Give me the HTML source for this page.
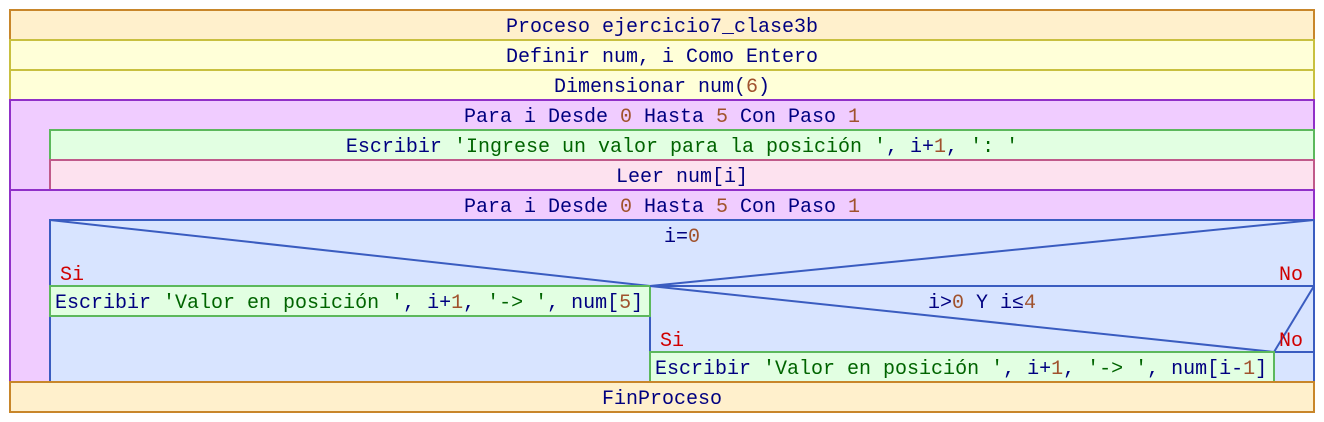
<!DOCTYPE html>
<html><head><meta charset="utf-8"><style>
html,body{margin:0;padding:0;background:#fff;}
svg{display:block;}
text{font-family:"Liberation Mono","DejaVu Sans Mono",monospace;font-size:20px;fill:#000080;}
.n{fill:#a0522d}.s{fill:#006400}.r{fill:#d00000}
</style></head><body>
<svg width="1324" height="422" viewBox="0 0 1324 422">
<g stroke-width="2">
<rect x="10" y="10" width="1304" height="30" fill="#fff0cc" stroke="#c8862a"/>
<rect x="10" y="40" width="1304" height="30" fill="#ffffd8" stroke="#c8c040"/>
<rect x="10" y="70" width="1304" height="30" fill="#ffffd8" stroke="#c8c040"/>
<rect x="10" y="100" width="1304" height="90" fill="#f0ccff" stroke="#9030c8"/>
<rect x="50" y="130" width="1264" height="30" fill="#e2ffe2" stroke="#5cb85c"/>
<rect x="50" y="160" width="1264" height="30" fill="#fde2ef" stroke="#c05a8a"/>
<rect x="10" y="190" width="1304" height="192" fill="#f0ccff" stroke="#9030c8"/>
<rect x="50" y="220" width="1264" height="162" fill="#d8e4ff" stroke="#3a5cc0"/>
<line x1="50" y1="286" x2="1314" y2="286" stroke="#3a5cc0"/>
<line x1="50" y1="220" x2="650" y2="286" stroke="#3a5cc0"/>
<line x1="1314" y1="220" x2="650" y2="286" stroke="#3a5cc0"/>
<line x1="650" y1="286" x2="650" y2="382" stroke="#3a5cc0"/>
<rect x="50" y="286" width="600" height="30" fill="#e2ffe2" stroke="#5cb85c"/>
<line x1="650" y1="352" x2="1314" y2="352" stroke="#3a5cc0"/>
<line x1="650" y1="286" x2="1274" y2="352" stroke="#3a5cc0"/>
<line x1="1314" y1="286" x2="1274" y2="352" stroke="#3a5cc0"/>
<line x1="1274" y1="352" x2="1274" y2="382" stroke="#3a5cc0"/>
<rect x="650" y="352" width="624" height="30" fill="#e2ffe2" stroke="#5cb85c"/>
<rect x="10" y="382" width="1304" height="30" fill="#fff0cc" stroke="#c8862a"/>
</g>
<text x="662" y="32" text-anchor="middle">Proceso ejercicio7_clase3b</text>
<text x="662" y="62" text-anchor="middle">Definir num, i Como Entero</text>
<text x="662" y="92" text-anchor="middle">Dimensionar num(<tspan class="n">6</tspan>)</text>
<text x="662" y="122" text-anchor="middle">Para i Desde <tspan class="n">0</tspan> Hasta <tspan class="n">5</tspan> Con Paso <tspan class="n">1</tspan></text>
<text x="682" y="152" text-anchor="middle">Escribir <tspan class="s">'Ingrese un valor para la posición '</tspan>, i+<tspan class="n">1</tspan>, <tspan class="s">': '</tspan></text>
<text x="682" y="182" text-anchor="middle">Leer num[i]</text>
<text x="662" y="212" text-anchor="middle">Para i Desde <tspan class="n">0</tspan> Hasta <tspan class="n">5</tspan> Con Paso <tspan class="n">1</tspan></text>
<text x="682" y="242" text-anchor="middle">i=<tspan class="n">0</tspan></text>
<text x="60" y="280" class="r">Si</text>
<text x="1303" y="280" class="r" text-anchor="end">No</text>
<text x="55" y="308">Escribir <tspan class="s">'Valor en posición '</tspan>, i+<tspan class="n">1</tspan>, <tspan class="s">'-&gt; '</tspan>, num[<tspan class="n">5</tspan>]</text>
<text x="982" y="308" text-anchor="middle">i&gt;<tspan class="n">0</tspan> Y i≤<tspan class="n">4</tspan></text>
<text x="660" y="346" class="r">Si</text>
<text x="1303" y="346" class="r" text-anchor="end">No</text>
<text x="655" y="374">Escribir <tspan class="s">'Valor en posición '</tspan>, i+<tspan class="n">1</tspan>, <tspan class="s">'-&gt; '</tspan>, num[i-<tspan class="n">1</tspan>]</text>
<text x="662" y="404" text-anchor="middle">FinProceso</text>
</svg>
</body></html>
